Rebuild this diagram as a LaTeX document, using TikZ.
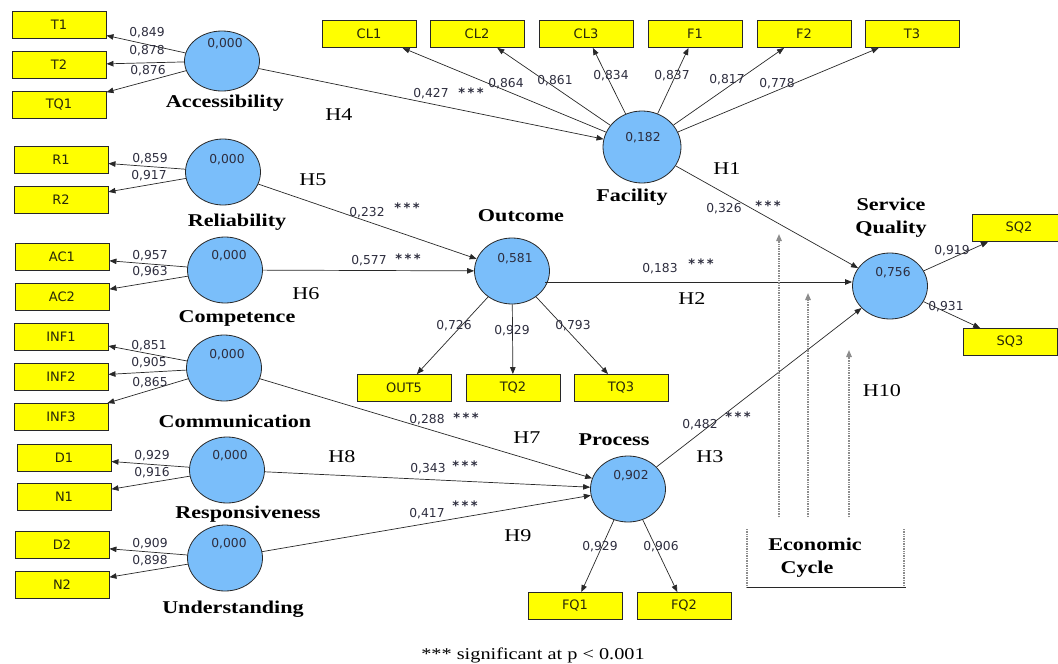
\documentclass[tikz,border=0pt]{standalone}
\usepackage{graphicx}
\usepackage{fontspec}
\setmainfont{Liberation Serif}
\newfontfamily\valfont{DejaVu Sans}
\usetikzlibrary{shapes.geometric,arrows.meta,calc}
\definecolor{latblue}{RGB}{122,190,250}
\definecolor{boxyel}{RGB}{255,255,0}
\definecolor{edgec}{RGB}{40,40,40}
\definecolor{numc}{RGB}{45,45,62}
\definecolor{dotc}{RGB}{140,140,140}
\definecolor{boxtxt}{RGB}{40,40,10}
\newcommand\xw[1]{\scalebox{1.23}[1]{#1}}
\begin{document}
\begin{tikzpicture}[x=1pt,y=-1pt,
  lat/.style={ellipse, draw=edgec, line width=0.8pt, fill=latblue, minimum width=75pt, minimum height=66pt, inner sep=0pt},
  ind/.style={rectangle, draw=edgec, line width=0.9pt, fill=boxyel, minimum width=94pt, minimum height=27pt, inner sep=0pt, font=\valfont\fontsize{13}{14}\selectfont, text=boxtxt},
  num/.style={font=\valfont\fontsize{12.3}{13}\selectfont, text=numc, inner sep=0pt},
  stars/.style={font=\valfont\bfseries\fontsize{13}{14}\selectfont, text=numc, inner sep=0pt},
  nm/.style={font=\bfseries\fontsize{18}{23}\selectfont, inner sep=0pt, align=center},
  hyp/.style={font=\fontsize{18}{20}\selectfont, inner sep=0pt},
  arr/.style={-{Triangle[length=7pt,width=5.5pt]}, draw=edgec, line width=0.7pt},
  dotarr/.style={-{Triangle[length=7pt,width=5.5pt]}, draw=dotc, line width=1.4pt, dash pattern=on 0.9pt off 0.8pt},
  dotln/.style={draw=dotc, line width=1.4pt, dash pattern=on 0.9pt off 0.8pt}
]
\useasboundingbox (0,0) rectangle (1058,664);

% ---------- indicator boxes ----------
\node[ind] (t1)   at (59,25)  {T1};
\node[ind] (t2)   at (59,65)  {T2};
\node[ind] (tq1)  at (59,105) {TQ1};
\node[ind] (r1)   at (61,160) {R1};
\node[ind] (r2)   at (61,200) {R2};
\node[ind] (ac1)  at (62,257) {AC1};
\node[ind] (ac2)  at (62,297) {AC2};
\node[ind] (inf1) at (61,337) {INF1};
\node[ind] (inf2) at (61,377) {INF2};
\node[ind] (inf3) at (61,417) {INF3};
\node[ind] (d1)   at (64,458) {D1};
\node[ind] (n1)   at (64,497) {N1};
\node[ind] (d2)   at (62,545) {D2};
\node[ind] (n2)   at (62,585) {N2};
\node[ind] (cl1)  at (369,34) {CL1};
\node[ind] (cl2)  at (477,34) {CL2};
\node[ind] (cl3)  at (586,34) {CL3};
\node[ind] (f1)   at (695,34) {F1};
\node[ind] (f2)   at (804,34) {F2};
\node[ind] (t3)   at (912,34) {T3};
\node[ind] (out5) at (404,388) {OUT5};
\node[ind] (tq2)  at (513,388) {TQ2};
\node[ind] (tq3)  at (621,388) {TQ3};
\node[ind] (fq1)  at (575,606) {FQ1};
\node[ind] (fq2)  at (684,606) {FQ2};
\node[ind] (sq2)  at (1019,228) {SQ2};
\node[ind] (sq3)  at (1010,342) {SQ3};

% ---------- latent variables ----------
\node[lat, minimum height=60pt] (acc) at (222,61) {};
\node[lat] (rel)  at (223,172) {};
\node[lat] (cmp)  at (225,270) {};
\node[lat] (cmm)  at (224,368) {};
\node[lat] (res)  at (227,470) {};
\node[lat] (und)  at (225,558) {};
\node[lat, minimum width=78pt, minimum height=72pt] (fac) at (642,147) {};
\node[lat] (outc) at (512,271) {};
\node[lat] (proc) at (628,489) {};
\node[lat] (sq)   at (890,286) {};

\node[num] (accv)  at (225,44)  {0,000};
\node[num] (relv)  at (227,160) {0,000};
\node[num] (cmpv)  at (229,256) {0,000};
\node[num] (cmmv)  at (227,355) {0,000};
\node[num] (resv)  at (230,456) {0,000};
\node[num] (undv)  at (229,544) {0,000};
\node[num] (facv)  at (643,138) {0,182};
\node[num] (outcv) at (515,259) {0,581};
\node[num] (procv) at (631,476) {0,902};
\node[num] (sqv)   at (893,273) {0,756};

\node[nm] (accn)  at (225,103) {\xw{Accessibility}};
\node[nm] (reln)  at (237,222) {\xw{Reliability}};
\node[nm] (cmpn)  at (237,318) {\xw{Competence}};
\node[nm] (cmmn)  at (235,421) {\xw{Communication}};
\node[nm] (resn)  at (248,514) {\xw{Responsiveness}};
\node[nm] (undn)  at (233,609) {\xw{Understanding}};
\node[nm] (facn)  at (632,197) {\xw{Facility}};
\node[nm] (outcn) at (521,216) {\xw{Outcome}};
\node[nm] (procn) at (614,440) {\xw{Process}};
\node[nm] (sqn)   at (891,218) {\xw{Service}\\\xw{Quality}};

% ---------- measurement arrows ----------
\draw[arr] (acc) -- (t1);
\draw[arr] (acc) -- (t2);
\draw[arr] (acc) -- (tq1);
\draw[arr] (rel) -- (r1);
\draw[arr] (rel) -- (r2);
\draw[arr] (cmp) -- (ac1);
\draw[arr] (cmp) -- (ac2);
\draw[arr] (cmm) -- (inf1);
\draw[arr] (cmm) -- (inf2);
\draw[arr] (cmm) -- (inf3);
\draw[arr] (res) -- (d1);
\draw[arr] (res) -- (n1);
\draw[arr] (und) -- (d2);
\draw[arr] (und) -- (n2);
\draw[arr] (fac) -- (cl1);
\draw[arr] (fac) -- (cl2);
\draw[arr] (fac) -- (cl3);
\draw[arr] (fac) -- (f1);
\draw[arr] (fac) -- (f2);
\draw[arr] (fac) -- (t3);
\draw[arr] (outc) -- (out5);
\draw[arr] (outc) -- (tq2);
\draw[arr] (outc) -- (tq3);
\draw[arr] (proc) -- (fq1);
\draw[arr] (proc) -- (fq2);
\draw[arr] (sq) -- (sq2);
\draw[arr] (sq) -- (sq3);

% ---------- structural arrows ----------
\draw[arr] (acc) -- (fac);
\draw[arr] (rel) -- (outc);
\draw[arr] (cmp) -- (outc);
\draw[arr] (cmm) -- (proc);
\draw[arr] (res) -- (proc);
\draw[arr] (und) -- (proc);
\draw[arr] (fac) -- (sq);
\draw[arr] (proc) -- (sq);
\coordinate (o2s) at (545,282);
\draw[arr] (o2s) -- (o2s -| sq.west);

% ---------- loadings ----------
\node[num] (l1)  at (147,33)  {0,849};
\node[num] (l2)  at (147,51)  {0,878};
\node[num] (l3)  at (148,71)  {0,876};
\node[num] (l4)  at (150,159) {0,859};
\node[num] (l5)  at (149,176) {0,917};
\node[num] (l6)  at (150,256) {0,957};
\node[num] (l7)  at (150,272) {0,963};
\node[num] (l8)  at (149,346) {0,851};
\node[num] (l9)  at (149,363) {0,905};
\node[num] (l10) at (150,383) {0,865};
\node[num] (l11) at (152,456) {0,929};
\node[num] (l12) at (152,473) {0,916};
\node[num] (l13) at (150,544) {0,909};
\node[num] (l14) at (150,561) {0,898};
\node[num] (l15) at (506,84)  {0,864};
\node[num] (l16) at (555,81)  {0,861};
\node[num] (l17) at (611,76)  {0,834};
\node[num] (l18) at (672,76)  {0,837};
\node[num] (l19) at (727,80)  {0,817};
\node[num] (l20) at (777,84)  {0,778};
\node[num] (l21) at (454,326) {0,726};
\node[num] (l22) at (512,331) {0,929};
\node[num] (l23) at (573,326) {0,793};
\node[num] (l24) at (600,547) {0,929};
\node[num] (l25) at (661,547) {0,906};
\node[num] (l26) at (952,251) {0,919};
\node[num] (l27) at (946,307) {0,931};

% ---------- path coefficients ----------
\node[num] (p1) at (431,94)  {0,427};
\node[stars] (s1) at (471,93) {*\hspace{2.5pt}*\hspace{2.5pt}*};
\node[num] (p2) at (724,209) {0,326};
\node[stars] (s2) at (768,206) {*\hspace{2.5pt}*\hspace{2.5pt}*};
\node[num] (p3) at (367,213) {0,232};
\node[stars] (s3) at (407,208) {*\hspace{2.5pt}*\hspace{2.5pt}*};
\node[num] (p4) at (369,261) {0,577};
\node[stars] (s4) at (408,259) {*\hspace{2.5pt}*\hspace{2.5pt}*};
\node[num] (p5) at (660,269) {0,183};
\node[stars] (s5) at (701,264) {*\hspace{2.5pt}*\hspace{2.5pt}*};
\node[num] (p6) at (427,420) {0,288};
\node[stars] (s6) at (466,418) {*\hspace{2.5pt}*\hspace{2.5pt}*};
\node[num] (p7) at (428,469) {0,343};
\node[stars] (s7) at (465,466) {*\hspace{2.5pt}*\hspace{2.5pt}*};
\node[num] (p8) at (427,514) {0,417};
\node[stars] (s8) at (465,506) {*\hspace{2.5pt}*\hspace{2.5pt}*};
\node[num] (p9) at (700,425) {0,482};
\node[stars] (s9) at (738,417) {*\hspace{2.5pt}*\hspace{2.5pt}*};

% ---------- hypotheses ----------
\node[hyp] (h4)  at (339,115) {\xw{H4}};
\node[hyp] (h5)  at (313,180) {\xw{H5}};
\node[hyp] (h6)  at (306,294) {\xw{H6}};
\node[hyp] (h1)  at (727,169) {\xw{H1}};
\node[hyp] (h2)  at (692,299) {\xw{H2}};
\node[hyp] (h3)  at (710,457) {\xw{H3}};
\node[hyp] (h7)  at (527,438) {\xw{H7}};
\node[hyp] (h8)  at (342,457) {\xw{H8}};
\node[hyp] (h9)  at (518,536) {\xw{H9}};
\node[hyp] (h10) at (882,391) {\xw{H10}};

% ---------- economic cycle ----------
\coordinate (eb1) at (779,517); \coordinate (et1) at (779,234);
\coordinate (eb2) at (808,517); \coordinate (et2) at (808,293);
\coordinate (eb3) at (849,517); \coordinate (et3) at (849,350);
\draw[dotarr] (eb1) -- (et1);
\draw[dotarr] (eb2) -- (et2);
\draw[dotarr] (eb3) -- (et3);
\coordinate (ecl) at (747,529); \coordinate (ecr) at (904,529);
\coordinate (ebl) at (747,587); \coordinate (ebr) at (906,587);
\draw[dotln] (ecl) -- (ebl);
\draw[dotln] (ecr) -- (ebr -| ecr);
\draw[edgec, line width=1pt] (ebl) -- (ebr);
\node[nm] (econ1) at (815,544) {\xw{Economic}};
\node[nm] (econ2) at (807,569) {\xw{Cycle}};

% ---------- footnote ----------
\node[hyp, font=\fontsize{16.5}{18}\selectfont] (foot) at (533,655) {\xw{*** significant at p < 0.001}};
\end{tikzpicture}
\end{document}
